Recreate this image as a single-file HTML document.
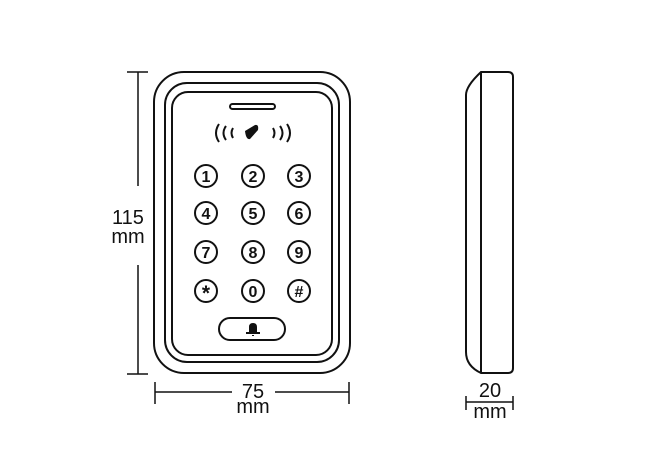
<!DOCTYPE html>
<html><head><style>
html,body{margin:0;padding:0;background:#fff;}
svg{display:block;}
text{font-family:"Liberation Sans",sans-serif;fill:#111;}
</style></head><body>
<svg width="650" height="463" viewBox="0 0 650 463" xmlns="http://www.w3.org/2000/svg">
<g fill="none" stroke="#111" stroke-width="2">
<rect x="154" y="72" width="196" height="301" rx="30"/>
<rect x="165" y="83" width="174" height="279" rx="22"/>
<rect x="172" y="92" width="160" height="263" rx="16"/>
<rect x="230" y="104" width="45" height="5" rx="2.5"/>
<path d="M219 124 Q213 133 219 142"/>
<path d="M226 126 Q221 133 226 140"/>
<path d="M233 128 Q230 133 233 138"/>
<path d="M273 128 Q276 133 273 138"/>
<path d="M280 126 Q285 133 280 140"/>
<path d="M287 124 Q293 133 287 142"/>
<circle cx="206" cy="176" r="11"/><circle cx="253" cy="176" r="11"/><circle cx="299" cy="176" r="11"/>
<circle cx="206" cy="213" r="11"/><circle cx="253" cy="213" r="11"/><circle cx="299" cy="213" r="11"/>
<circle cx="206" cy="252" r="11"/><circle cx="253" cy="252" r="11"/><circle cx="299" cy="252" r="11"/>
<circle cx="206" cy="291" r="11"/><circle cx="253" cy="291" r="11"/><circle cx="299" cy="291" r="11"/>
<rect x="219" y="318" width="66" height="22" rx="11"/>
<path d="M481 72 L508 72 Q513 72 513 77 L513 368 Q513 373 508 373 L481 373 Q466 366 466 352 L466 95 Q466 86 481 72 Z"/>
<line x1="481" y1="72" x2="481" y2="373"/>
</g>
<path d="M245 131 L255 125 Q259 124 258 130 L250 139 Q246 140 245 131 Z" fill="#111"/>
<path d="M249 332 L249 327 Q249 323 253 323 Q257 323 257 327 L257 332 Z M246 332 L260 332 L260 334 L246 334 Z M252 335 L254 335 L254 336 L252 336 Z" fill="#111"/>
<g font-weight="bold" font-size="16" text-anchor="middle">
<text x="206" y="182">1</text><text x="253" y="182">2</text><text x="299" y="182">3</text>
<text x="206" y="219">4</text><text x="253" y="219">5</text><text x="299" y="219">6</text>
<text x="206" y="258">7</text><text x="253" y="258">8</text><text x="299" y="258">9</text>
<text x="206" y="300" font-size="21">*</text><text x="253" y="297">0</text><text x="299" y="297">#</text>
</g>
<g stroke="#111" stroke-width="1.5" fill="none">
<line x1="138" y1="72" x2="138" y2="186"/><line x1="138" y1="265" x2="138" y2="374"/>
<line x1="127" y1="72" x2="148" y2="72"/><line x1="127" y1="374" x2="148" y2="374"/>
<line x1="155" y1="392" x2="232" y2="392"/><line x1="275" y1="392" x2="349" y2="392"/>
<line x1="155" y1="382" x2="155" y2="404"/><line x1="349" y1="382" x2="349" y2="404"/>
<line x1="466" y1="402" x2="513" y2="402"/>
<line x1="466" y1="396" x2="466" y2="410"/><line x1="513" y1="396" x2="513" y2="410"/>
</g>
<g font-size="20" text-anchor="middle">
<text x="128" y="224">115</text><text x="128" y="243">mm</text>
<text x="253" y="398">75</text><text x="253" y="413">mm</text>
<text x="490" y="397">20</text><text x="490" y="418">mm</text>
</g>
</svg>
</body></html>
